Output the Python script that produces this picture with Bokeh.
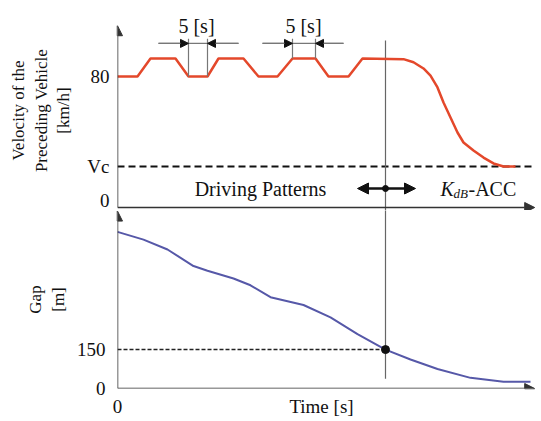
from bokeh.plotting import figure
from bokeh.layouts import column
from bokeh.models import Range1d, FixedTicker, Arrow, NormalHead
from bokeh.core.properties import value
from bokeh.embed import file_html
from bokeh.resources import INLINE

# ---------------- data ----------------
# preceding vehicle velocity [km/h] vs time [s]
vel_t = [0, 5, 8.25, 14.5, 17.75, 22.5, 25.25, 31.5, 35.25, 40, 43.75, 49.5, 52.75,
         57.75, 61.25, 71.5, 74, 76.5, 78.25, 80, 81.5, 83.25, 85, 86.5, 89, 91.5, 94, 96.5, 99.5]
vel_v = [80, 80, 91, 91, 80, 80, 91, 91, 80, 80, 91, 91, 80,
         80, 91, 90.6, 88.7, 84.9, 80.6, 73.3, 64.1, 55, 45.8, 39.7, 34.8, 30.5, 26.9, 25, 25]
vc = 25
# gap [m] vs time [s]
gap_t = [0, 6.5, 12.5, 19, 22.5, 29, 33.25, 38.25, 46.5, 53.25, 60, 67, 73.25, 80, 88.25, 96.5, 103.25]
gap_v = [604, 574, 536, 472, 454, 424, 398, 352, 322, 274, 210, 150, 112, 75, 41, 26, 26]
gap_th = 150
t_switch = 67
t_max = 104.5
v_ticks = [0, 25, 80]
v_labels = ["0", "Vc", "80"]
g_ticks = [0, 150]
g_labels = ["0", "150"]

SERIF = "Liberation Serif"
RED = "#e4482b"
BLUE = "#5658a8"
AX = "#333333"
TXT = "#111111"

# ---------------- top panel ----------------
p1 = figure(width=535, height=210, output_backend="svg", toolbar_location=None,
            x_range=Range1d(0, t_max), y_range=Range1d(-1.83, 120.3),
            min_border_left=117, min_border_right=0, min_border_top=10, min_border_bottom=0)
p1.outline_line_color = None
p1.grid.visible = False
p1.xaxis.visible = False
ya = p1.yaxis[0]
ya.ticker = FixedTicker(ticks=v_ticks)
ya.major_label_overrides = {t: l for t, l in zip(v_ticks, v_labels)}
ya.axis_line_color = None
ya.major_tick_line_color = None
ya.minor_tick_line_color = None
ya.major_tick_out = 0
ya.major_label_standoff = 8
ya.major_label_text_font = SERIF
ya.major_label_text_font_size = "19px"
ya.major_label_text_color = TXT
ya.axis_label = "Velocity of the\nPreceding Vehicle\n[km/h]"
ya.axis_label_text_font = SERIF
ya.axis_label_text_font_style = "normal"
ya.axis_label_text_font_size = "17px"
ya.axis_label_text_color = TXT
ya.axis_label_standoff = 11

# axes arrows
p1.add_layout(Arrow(x_start=0, y_start=0, x_end=0, y_end=111, line_color=AX, line_width=1.5,
                    end=NormalHead(size=10, fill_color=AX, line_color=AX)))
p1.add_layout(Arrow(x_start=0, y_start=0, x_end=t_max - 0.2, y_end=0, line_color=AX, line_width=1.5,
                    end=NormalHead(size=10, fill_color=AX, line_color=AX)))

# Vc dashed line
p1.line([0, t_max], [vc, vc], line_color=TXT, line_width=2, line_dash="7 4")
# switching time line
p1.segment(x0=[t_switch], y0=[-5], x1=[t_switch], y1=[102], line_color="#666666", line_width=1.2)
# velocity
p1.line(vel_t, vel_v, line_color=RED, line_width=2.5)

# 5 [s] markers
for (a, b, ytop, xl, xr) in [(17.75, 22.5, 80, 10.25, 30.25), (43.75, 49.5, 91, 36.25, 56.5)]:
    p1.segment(x0=[a, b], y0=[103, 103], x1=[a, b], y1=[ytop, ytop], line_color="#777777", line_width=1.2)
    p1.segment(x0=[xl], y0=[100.2], x1=[xr], y1=[100.2], line_color="#777777", line_width=1.2)
    p1.add_layout(Arrow(x_start=xl, y_start=100.2, x_end=a, y_end=100.2, line_color="#777777", line_width=1.2,
                        end=NormalHead(size=8, fill_color=TXT, line_color=TXT)))
    p1.add_layout(Arrow(x_start=xr, y_start=100.2, x_end=b, y_end=100.2, line_color="#777777", line_width=1.2,
                        end=NormalHead(size=8, fill_color=TXT, line_color=TXT)))
p1.text(x=[19.75, 46.5], y=[111, 111], text=["5 [s]", "5 [s]"], text_font=value(SERIF),
        text_font_size="20px", text_align="center", text_baseline="middle", text_color=TXT)

# Driving patterns / K_dB-ACC
p1.text(x=[35.75], y=[11.6], text=["Driving Patterns"], text_font=value(SERIF),
        text_font_size="20px", text_align="center", text_baseline="middle", text_color=TXT)
p1.add_layout(Arrow(x_start=t_switch, y_start=11.6, x_end=60, y_end=11.6, line_color=TXT, line_width=2.5,
                    end=NormalHead(size=11, fill_color=TXT, line_color=TXT)))
p1.add_layout(Arrow(x_start=t_switch, y_start=11.6, x_end=74.5, y_end=11.6, line_color=TXT, line_width=2.5,
                    end=NormalHead(size=11, fill_color=TXT, line_color=TXT)))
p1.scatter([t_switch], [11.6], size=6, color=TXT)
p1.text(x=[80.75], y=[11.6], text=["K"], text_font=value(SERIF), text_font_style="italic",
        text_font_size="20px", text_align="left", text_baseline="middle", text_color=TXT)
p1.text(x=[80.75], y=[11.6], text=["dB"], text_font=value(SERIF), text_font_style="italic",
        text_font_size="13px", text_align="left", text_baseline="middle", text_color=TXT,
        x_offset=13, y_offset=5)
p1.text(x=[80.75], y=[11.6], text=["-ACC"], text_font=value(SERIF),
        text_font_size="20px", text_align="left", text_baseline="middle", text_color=TXT,
        x_offset=28)

# ---------------- bottom panel ----------------
p2 = figure(width=535, height=209, output_backend="svg", toolbar_location=None,
            x_range=p1.x_range, y_range=Range1d(0, 686.25),
            min_border_left=117, min_border_right=0, min_border_top=0, min_border_bottom=26)
p2.outline_line_color = None
p2.grid.visible = False
xa = p2.xaxis[0]
xa.ticker = FixedTicker(ticks=[0, 51])
xa.major_label_overrides = {0: "0", 51: "Time [s]"}
xa.axis_line_color = None
xa.major_tick_line_color = None
xa.minor_tick_line_color = None
xa.major_tick_out = 0
xa.major_label_standoff = 7
xa.major_label_text_font = SERIF
xa.major_label_text_font_size = "19px"
xa.major_label_text_color = TXT
yb = p2.yaxis[0]
yb.ticker = FixedTicker(ticks=g_ticks)
yb.major_label_overrides = {t: l for t, l in zip(g_ticks, g_labels)}
yb.axis_line_color = None
yb.major_tick_line_color = None
yb.minor_tick_line_color = None
yb.major_tick_out = 0
yb.major_label_standoff = 12
yb.major_label_text_font = SERIF
yb.major_label_text_font_size = "19px"
yb.major_label_text_color = TXT
yb.axis_label = "Gap\n[m]"
yb.axis_label_text_font = SERIF
yb.axis_label_text_font_style = "normal"
yb.axis_label_text_font_size = "17px"
yb.axis_label_text_color = TXT
yb.axis_label_standoff = 6

p2.add_layout(Arrow(x_start=0, y_start=0, x_end=0, y_end=684, line_color=AX, line_width=1.5,
                    end=NormalHead(size=10, fill_color=AX, line_color=AX)))
p2.add_layout(Arrow(x_start=0, y_start=0, x_end=t_max - 0.2, y_end=0, line_color=AX, line_width=1.5,
                    end=NormalHead(size=10, fill_color=AX, line_color=AX)))
p2.segment(x0=[t_switch], y0=[700], x1=[t_switch], y1=[37.5], line_color="#666666", line_width=1.2)
p2.line([0, t_switch], [gap_th, gap_th], line_color="#222222", line_width=1.5, line_dash="4 2")
p2.line(gap_t, gap_v, line_color=BLUE, line_width=2)
p2.scatter([t_switch], [gap_th], size=8, color=TXT)

layout = column(p1, p2, spacing=0)
open("out.html", "w").write(file_html(layout, INLINE))
